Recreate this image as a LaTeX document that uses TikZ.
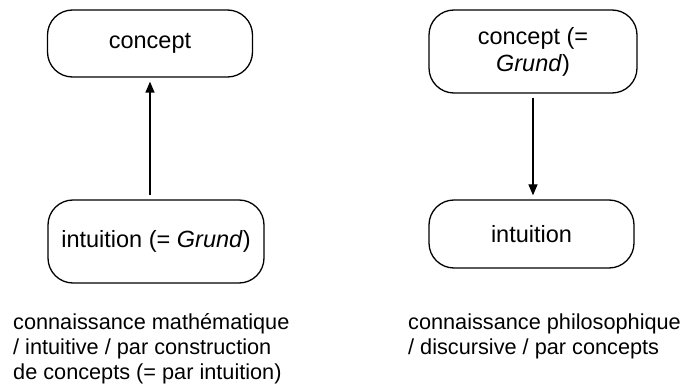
\documentclass[tikz,border=0pt]{standalone}
\usepackage{fontspec}
\setmainfont{Liberation Sans}
\usetikzlibrary{arrows.meta}
\begin{document}
\begin{tikzpicture}[x=1pt,y=-1pt,
  box/.style={draw, line width=1.3pt, rounded corners=25pt, inner sep=0pt, align=center,
    font=\fontsize{23.5}{27}\selectfont},
  arr/.style={line width=1.3pt, -{Triangle[length=11pt,width=9pt]}, shorten >=4pt, shorten <=4pt},
  captext/.style={anchor=base west, inner sep=0pt, align=left, font=\fontsize{21.7}{25}\selectfont}]
\useasboundingbox (0,0) rectangle (686,385);
\node[box, minimum width=205pt, minimum height=67pt] (lt) at (150,43.5) {concept};
\node[box, minimum width=216pt, minimum height=83pt] (lb) at (156,241.5) {intuition (= \textit{Grund})};
\node[box, minimum width=208pt, minimum height=83pt] (rt) at (533,51.5) {concept (=\\\textit{Grund})};
\node[box, minimum width=205pt, minimum height=68pt] (rb) at (531.5,234) {intuition};
\draw[arr] (lb.north -| lt) -- (lt.south);
\draw[arr] (rt.south) -- (rb.north -| rt);
\node[captext] (lc) at (13,379) {connaissance mathématique\\/ intuitive / par construction\\de concepts (= par intuition)};
\node[captext] (rc) at (408,354) {connaissance philosophique\\/ discursive / par concepts};
\end{tikzpicture}
\end{document}
